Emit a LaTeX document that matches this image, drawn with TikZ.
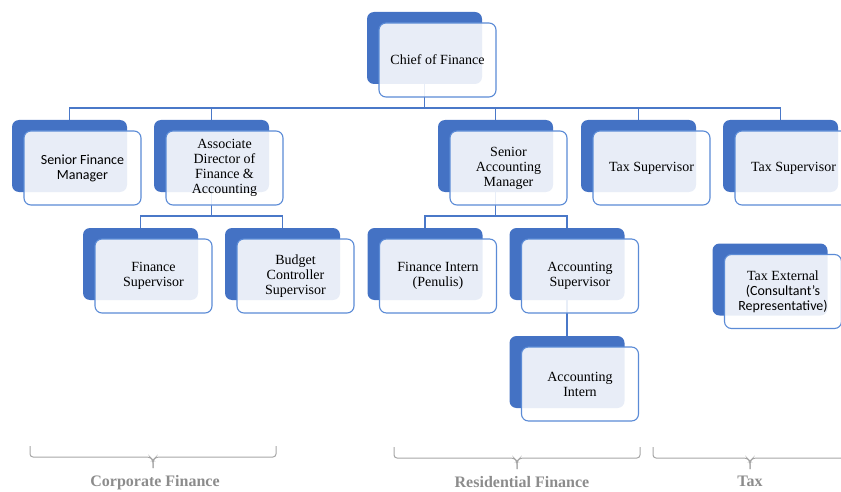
\documentclass[tikz,border=0pt]{standalone}
\usepackage{fontspec}
\setmainfont{Liberation Serif}
\newfontfamily\sansf{Carlito}
\usetikzlibrary{calc}
\pgfdeclarelayer{bg}
\pgfsetlayers{bg,main}
\definecolor{backblue}{HTML}{4472C4}
\definecolor{edgeblue}{HTML}{5B8BD6}
\definecolor{linkblue}{HTML}{4A78C8}
\definecolor{bracegray}{HTML}{A6A6A6}
\definecolor{labelgray}{HTML}{8C8C8C}
\tikzset{
 backbox/.style={fill=backblue, draw=none, rounded corners=7pt, minimum width=115pt, minimum height=72pt, inner sep=0pt},
 frontbox/.style={fill=white, fill opacity=0.88, text opacity=1, draw=edgeblue, line width=1.1pt, rounded corners=7pt, minimum width=117pt, minimum height=74pt, inner sep=0pt, align=center, font=\fontsize{14}{15}\selectfont},
 link/.style={draw=linkblue, line width=1.1pt},
 bracepath/.style={draw=bracegray, line width=1pt, rounded corners=3pt},
 grouplabel/.style={text=labelgray, font=\fontsize{16}{18}\selectfont\bfseries},
}
\newcommand\orgbox[4]{%
 \node[backbox] (#1b) at (#2,#3) {};
 \node[frontbox] (#1) at ({#2+13},{#3+12}) {#4};
}
\begin{document}
\begin{tikzpicture}[x=1pt,y=-1pt]
\useasboundingbox (0,0) rectangle (841,492);
\clip (0,0) rectangle (841,492);
% boxes
\orgbox{chief}{424.5}{48}{Chief of Finance}
\orgbox{sfm}{69.5}{156}{{\sansf Senior Finance}\\{\sansf Manager}}
\orgbox{ad}{211.5}{156}{Associate\\Director of\\Finance \&\\Accounting}
\orgbox{sam}{495.5}{156}{Senior\\Accounting\\Manager}
\orgbox{tsa}{638.5}{156}{Tax Supervisor}
\orgbox{tsb}{780.5}{156}{Tax Supervisor}
\orgbox{fs}{140.5}{264}{Finance\\Supervisor}
\orgbox{bc}{282.5}{264}{Budget\\Controller\\Supervisor}
\orgbox{fi}{425}{264}{Finance Intern\\(Penulis)}
\orgbox{as}{567}{264}{Accounting\\Supervisor}
\orgbox{te}{770}{279.5}{Tax External\\{\sansf (Consultant’s}\\{\sansf Representative)}}
\orgbox{ai}{567}{372}{Accounting\\Intern}
% connectors
\begin{pgfonlayer}{bg}
\coordinate (busa) at (0,108);
\coordinate (busb) at (0,216);
\draw[link] (chiefb.south) -- (chiefb.south |- busa) -| (sfmb.north);
\draw[link] (chiefb.south |- busa) -| (adb.north);
\draw[link] (chiefb.south |- busa) -| (samb.north);
\draw[link] (chiefb.south |- busa) -| (tsab.north);
\draw[link] (chiefb.south |- busa) -| (tsbb.north);
\draw[link] (adb.south) -- (adb.south |- busb) -| (fsb.north);
\draw[link] (adb.south |- busb) -| (bcb.north);
\draw[link] (samb.south) -- (samb.south |- busb) -| (fib.north);
\draw[link] (samb.south |- busb) -| (asb.north);
\draw[link] (asb.south) -- (aib.north);
\end{pgfonlayer}
% braces
\draw[bracepath] (30,446) -- (30,457) -- (150,457) -- (153,460) -- (153,468);
\draw[bracepath] (153,468) -- (153,460) -- (156,457) -- (276,457) -- (276,446);
\draw[bracepath] (394,447) -- (394,458) -- (514,458) -- (517,461) -- (517,469);
\draw[bracepath] (517,469) -- (517,461) -- (520,458) -- (640,458) -- (640,447);
\draw[bracepath] (653,447) -- (653,458) -- (747,458) -- (750,461) -- (750,469);
\draw[bracepath] (750,469) -- (750,461) -- (753,458) -- (850,458);
% labels
\node[grouplabel] (cflabel) at (155,483) {Corporate Finance};
\node[grouplabel] (rflabel) at (522,482) {Residential Finance};
\node[grouplabel] (taxlabel) at (750,481) {Tax};
\end{tikzpicture}
\end{document}
